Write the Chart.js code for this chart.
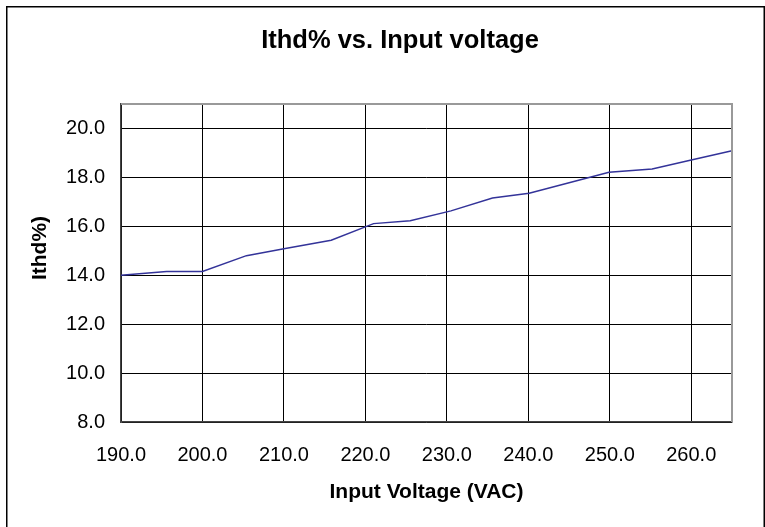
<!DOCTYPE html>
<html><head><meta charset="utf-8">
<script src="https://cdn.jsdelivr.net/npm/chart.js@4"></script>
<style>html,body{margin:0;padding:0;background:#fff}</style>
</head><body>
<canvas id="c" width="765" height="527"></canvas>
<script>
const chartTitle = 'Ithd% vs. Input voltage';
const xTitle = 'Input Voltage (VAC)';
const yTitle = 'Ithd%)';
const voltage = [190.0, 195.6, 200.0, 205.4, 210.0, 215.8, 221.0, 225.5, 230.5, 235.6, 240.1, 245.0, 249.9, 255.2, 260.0, 265.0];
const ithd    = [14.00, 14.15, 14.15, 14.80, 15.08, 15.43, 16.11, 16.23, 16.63, 17.16, 17.35, 17.78, 18.21, 18.34, 18.71, 19.09];
const xTicks = [190, 200, 210, 220, 230, 240, 250, 260];
const yTicks = [8, 10, 12, 14, 16, 18, 20];
const xRange = [190, 265];
const yRange = [8, 21];

Chart.defaults.font.family = '"Liberation Sans", Arial, sans-serif';
Chart.defaults.color = '#000';

const decor = {
  id: 'decor',
  beforeDraw(chart) {
    const ctx = chart.ctx;
    ctx.save();
    ctx.fillStyle = '#fff';
    ctx.fillRect(0, 0, chart.width, chart.height);
    ctx.restore();
  },
  afterDraw(chart) {
    const ctx = chart.ctx, a = chart.chartArea;
    ctx.save();
    ctx.strokeStyle = '#000';
    ctx.lineWidth = 1.5;
    ctx.strokeRect(6.75, 6.75, 757.5, 700);
    ctx.strokeStyle = '#999';
    ctx.lineWidth = 2;
    ctx.beginPath();
    ctx.moveTo(a.left, a.top);
    ctx.lineTo(a.right, a.top);
    ctx.lineTo(a.right, a.bottom);
    ctx.stroke();
    ctx.fillStyle = '#000';
    ctx.textAlign = 'center';
    ctx.textBaseline = 'middle';
    ctx.font = 'bold 25.5px "Liberation Sans", Arial, sans-serif';
    ctx.fillText(chartTitle, 400, 41);
    ctx.font = 'bold 21px "Liberation Sans", Arial, sans-serif';
    ctx.translate(40, 248);
    ctx.rotate(-Math.PI / 2);
    ctx.fillText(yTitle, 0, 0);
    ctx.restore();
  }
};

new Chart(document.getElementById('c'), {
  type: 'scatter',
  data: {
    datasets: [{
      label: 'Ithd%',
      data: voltage.map((v, i) => ({ x: v, y: ithd[i] })),
      showLine: true,
      borderColor: '#333399',
      borderWidth: 1.5,
      pointRadius: 0,
      tension: 0,
      clip: false
    }]
  },
  options: {
    responsive: false,
    animation: false,
    devicePixelRatio: 1,
    layout: { padding: { left: 0, right: 33, top: 104, bottom: 0 } },
    plugins: {
      legend: { display: false },
      tooltip: { enabled: false },
      title: { display: false }
    },
    scales: {
      x: {
        type: 'linear',
        min: xRange[0], max: xRange[1],
        afterBuildTicks: s => { s.ticks = xTicks.map(v => ({ value: v })); },
        afterFit: s => { s.height = 105; },
        grid: { color: '#000', lineWidth: 1, drawTicks: false },
        border: { color: '#444', width: 1.5 },
        ticks: { padding: 21, font: { size: 20 }, color: '#000', maxRotation: 0, autoSkip: false, callback: v => Number(v).toFixed(1) },
        title: { display: true, text: xTitle, color: '#000', font: { size: 21, weight: 'bold' }, padding: { top: 0, bottom: 22.4 } }
      },
      y: {
        type: 'linear',
        min: yRange[0], max: yRange[1],
        afterBuildTicks: s => { s.ticks = yTicks.map(v => ({ value: v })); },
        afterFit: s => { s.width = 121; },
        grid: { color: '#000', lineWidth: 1, drawTicks: false },
        border: { color: '#444', width: 1.5 },
        ticks: { padding: 16, font: { size: 20 }, color: '#000', autoSkip: false, callback: v => Number(v).toFixed(1) }
      }
    }
  },
  plugins: [decor]
});
</script>
</body></html>
